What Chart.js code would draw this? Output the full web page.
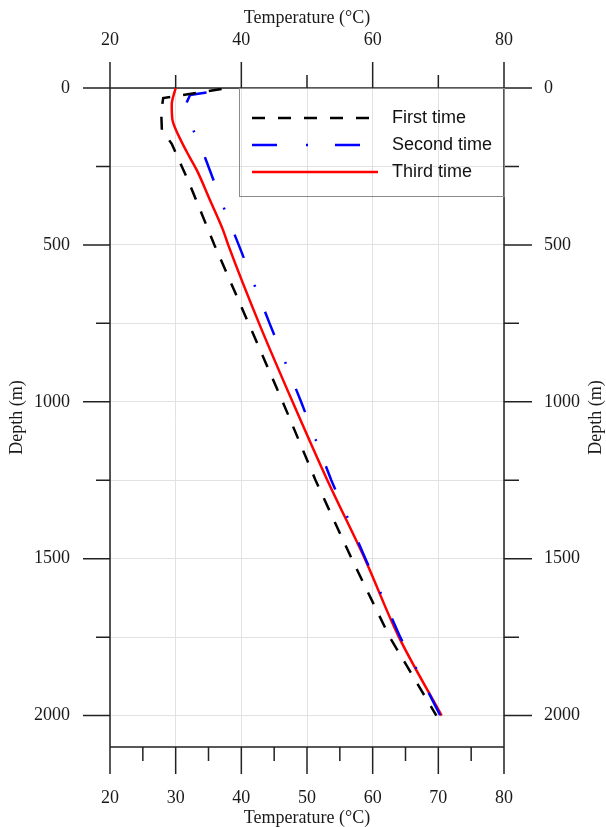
<!DOCTYPE html>
<html>
<head>
<meta charset="utf-8">
<script src="https://cdn.jsdelivr.net/npm/chart.js@4.4.1/dist/chart.umd.min.js"></script>
<style>
  html, body { margin: 0; padding: 0; background: #fff; }
</style>
</head>
<body>
<canvas id="chart" width="606" height="827"></canvas>
<script>
// Temperature vs depth, three logging runs in the same well
const seriesNames = ['First time', 'Second time', 'Third time'];

const firstDepth = [3, 32, 76, 134, 178, 300, 500, 750, 1000, 1250, 1500, 1750, 2000];
const firstTemp  = [37.0, 28.1, 27.8, 27.9, 29.4, 32.0, 35.9, 41.1, 46.3, 51.3, 56.8, 62.6, 69.7];

const secondDepth = [14, 22, 50, 130, 223, 385, 500, 750, 1000, 1250, 1500, 1750, 2000];
const secondTemp  = [34.7, 32.2, 31.6, 32.6, 34.5, 37.4, 39.6, 44.3, 49.1, 53.7, 58.9, 64.2, 70.3];

const thirdDepth = [0, 54, 100, 150, 204, 261, 356, 452, 500, 750, 1000, 1250, 1500, 1750, 2000];
const thirdTemp  = [30.0, 29.4, 29.5, 30.4, 31.7, 33.2, 35.2, 37.2, 38.0, 42.7, 47.8, 53.1, 58.8, 64.0, 70.5];

// axis ticks
const tempTicksTop = [20, 40, 60, 80];
const tempMinorTop = [30, 50, 70];
const tempTicksBottom = [20, 30, 40, 50, 60, 70, 80];
const tempMinorBottom = [25, 35, 45, 55, 65, 75];
const depthTicks = [0, 500, 1000, 1500, 2000];
const depthMinor = [250, 750, 1250, 1750];
const tempMin = 20, tempMax = 80, depthMax = 2100;

const serif = { family: '"Liberation Serif", "Times New Roman", serif', size: 18, lineHeight: 1 };
const inkColor = '#1a1a1a';
const gridColor = '#e2e2e2';

const toPoints = (temps, depths) => depths.map((d, i) => ({ x: temps[i], y: d }));
const asTicks = vals => vals.map(v => ({ value: v }));

// box, tick marks on all four sides
const frameTicks = {
  id: 'frameTicks',
  beforeDatasetsDraw(chart) {
    const { ctx, chartArea: a, scales } = chart;
    const x = scales.x, y = scales.y;
    const mark = (vals, scale, len, side) => vals.forEach(v => {
      const p = scale.getPixelForValue(v);
      if (side === 'top') { ctx.moveTo(p, a.top); ctx.lineTo(p, a.top - len); }
      if (side === 'bottom') { ctx.moveTo(p, a.bottom); ctx.lineTo(p, a.bottom + len); }
      if (side === 'left') { ctx.moveTo(a.left, p); ctx.lineTo(a.left - len, p); }
      if (side === 'right') { ctx.moveTo(a.right, p); ctx.lineTo(a.right + len, p); }
    });
    ctx.save();
    ctx.strokeStyle = '#222';
    ctx.lineWidth = 1.5;
    ctx.beginPath();
    ctx.rect(a.left, a.top, a.right - a.left, a.bottom - a.top);
    mark(tempTicksTop, x, 26, 'top');
    mark(tempMinorTop, x, 13, 'top');
    mark(tempTicksBottom, x, 27, 'bottom');
    mark(tempMinorBottom, x, 14, 'bottom');
    mark(depthTicks, y, 27, 'left');
    mark(depthMinor, y, 14, 'left');
    mark(depthTicks, y, 28, 'right');
    mark(depthMinor, y, 15, 'right');
    ctx.stroke();
    ctx.restore();
  }
};

// framed legend in the upper right corner of the plot
const boxLegend = {
  id: 'boxLegend',
  afterDatasetsDraw(chart) {
    const { ctx, chartArea: a } = chart;
    const left = 239, top = a.top, right = a.right, bottom = 196;
    ctx.save();
    ctx.strokeStyle = '#8a8a8a';
    ctx.lineWidth = 1;
    ctx.strokeRect(left + 0.5, top + 0.5, right - left, bottom - top);
    chart.data.datasets.forEach((ds, i) => {
      const cy = top + 30 + i * 27;
      ctx.beginPath();
      ctx.setLineDash(ds.borderDash || []);
      ctx.strokeStyle = ds.borderColor;
      ctx.lineWidth = ds.borderWidth;
      ctx.moveTo(left + 13, cy);
      ctx.lineTo(left + 139, cy);
      ctx.stroke();
      ctx.setLineDash([]);
      ctx.fillStyle = '#111';
      ctx.font = '18px "Liberation Sans", Arial, sans-serif';
      ctx.textBaseline = 'middle';
      ctx.textAlign = 'left';
      ctx.fillText(ds.label, left + 153, cy);
    });
    ctx.restore();
  },
  // right-hand axis title reads bottom to top, like the left one
  afterDraw(chart) {
    const { ctx, chartArea: a } = chart;
    ctx.save();
    ctx.translate(596, (a.top + a.bottom) / 2);
    ctx.rotate(-Math.PI / 2);
    ctx.font = '18px "Liberation Serif", "Times New Roman", serif';
    ctx.fillStyle = inkColor;
    ctx.textAlign = 'center';
    ctx.textBaseline = 'middle';
    ctx.fillText('Depth (m)', 0, 0);
    ctx.restore();
  }
};

new Chart(document.getElementById('chart'), {
  type: 'line',
  data: {
    datasets: [
      {
        label: seriesNames[0],
        data: toPoints(firstTemp, firstDepth),
        borderColor: '#000000',
        borderWidth: 2.5,
        borderDash: [13, 13],
        pointRadius: 0,
        tension: 0
      },
      {
        label: seriesNames[1],
        data: toPoints(secondTemp, secondDepth),
        borderColor: '#0000ff',
        borderWidth: 2.5,
        borderDash: [25, 29, 2, 27],
        pointRadius: 0,
        tension: 0
      },
      {
        label: seriesNames[2],
        data: toPoints(thirdTemp, thirdDepth),
        borderColor: '#ff0000',
        borderWidth: 2.5,
        pointRadius: 0,
        cubicInterpolationMode: 'monotone'
      }
    ]
  },
  options: {
    indexAxis: 'y',
    responsive: false,
    animation: false,
    layout: { padding: 0 },
    plugins: {
      legend: { display: false },
      tooltip: { enabled: false }
    },
    scales: {
      x: {
        type: 'linear', axis: 'x', position: 'bottom',
        min: tempMin, max: tempMax,
        afterBuildTicks: s => { s.ticks = asTicks(tempTicksBottom); },
        afterFit: s => { s.height = 80; },
        grid: { color: gridColor, lineWidth: 1, drawTicks: false },
        border: { display: false },
        ticks: { padding: 42, font: serif, color: inkColor, maxRotation: 0, autoSkip: false, callback: v => String(v) },
        title: { display: true, text: 'Temperature (°C)', font: serif, color: inkColor, padding: { top: 0, bottom: 0 } }
      },
      xTop: {
        type: 'linear', axis: 'x', position: 'top',
        min: tempMin, max: tempMax,
        afterBuildTicks: s => { s.ticks = asTicks(tempTicksTop); },
        afterFit: s => { s.height = 88; },
        grid: { display: false, drawTicks: false },
        border: { display: false },
        ticks: { padding: 39, font: serif, color: inkColor, maxRotation: 0, autoSkip: false, callback: v => String(v) },
        title: { display: true, text: 'Temperature (°C)', font: serif, color: inkColor, padding: { top: 9, bottom: 0 } }
      },
      y: {
        type: 'linear', axis: 'y', position: 'left', reverse: true,
        min: 0, max: depthMax,
        afterBuildTicks: s => { s.ticks = asTicks([...depthTicks, ...depthMinor].sort((p, q) => p - q)); },
        afterFit: s => { s.width = 110; },
        grid: { color: gridColor, lineWidth: 1, drawTicks: false },
        border: { display: false },
        ticks: { padding: 40, font: serif, color: inkColor, autoSkip: false, callback: v => depthTicks.includes(v) ? String(v) : '' },
        title: { display: true, text: 'Depth (m)', font: serif, color: inkColor, padding: { top: 8, bottom: 0 } }
      },
      yRight: {
        type: 'linear', axis: 'y', position: 'right', reverse: true,
        min: 0, max: depthMax,
        afterBuildTicks: s => { s.ticks = asTicks(depthTicks); },
        afterFit: s => { s.width = 102; },
        grid: { display: false, drawTicks: false },
        border: { display: false },
        ticks: { padding: 40, font: serif, color: inkColor, autoSkip: false, callback: v => String(v) }
      }
    }
  },
  plugins: [frameTicks, boxLegend]
});
</script>
</body>
</html>
